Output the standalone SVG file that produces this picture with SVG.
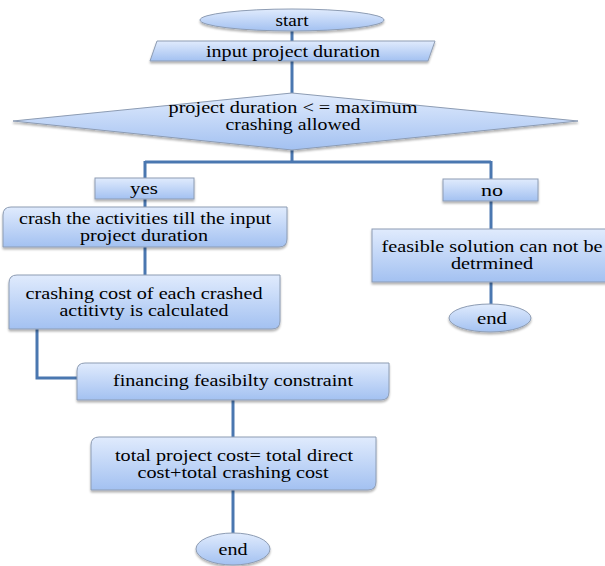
<svg xmlns="http://www.w3.org/2000/svg" width="605" height="566" viewBox="0 0 605 566">
<defs>
<linearGradient id="g" x1="0" y1="0" x2="0" y2="1">
<stop offset="0" stop-color="#e0ebfd"/>
<stop offset="1" stop-color="#a3c1f1"/>
</linearGradient>
<filter id="sh" x="-10%" y="-10%" width="120%" height="140%">
<feDropShadow dx="0" dy="2" stdDeviation="1.2" flood-color="#000" flood-opacity="0.3"/>
</filter>
</defs>
<style>
.n{fill:url(#g);stroke:#8d9cb3;stroke-width:1;filter:url(#sh)}
text{font-family:'Liberation Serif','DejaVu Serif',serif;font-size:16px;fill:#000;text-anchor:middle}
.c{fill:none;stroke:#4a77b0;stroke-width:3}
</style>
<rect width="605" height="566" fill="#fff"/>
<g id="connectors">
<path class="c" d="M292,31 V41"/>
<path class="c" d="M292,61 V93"/>
<path class="c" d="M292,150 V162 M145,162 H491 M145,161 V178 M491,161 V179"/>
<path class="c" d="M145,199 V207"/>
<path class="c" d="M145,247 V275"/>
<path class="c" d="M37,329 V378 H77"/>
<path class="c" d="M233,400 V437"/>
<path class="c" d="M233,490 V533"/>
<path class="c" d="M491,201 V229"/>
<path class="c" d="M491,282 V304"/>
</g>
<g font-family="Liberation Serif, serif" font-size="16">
<g id="start">
<ellipse class="n" cx="292" cy="20" rx="92" ry="11"/>
<text x="292" y="26" textLength="33" lengthAdjust="spacingAndGlyphs">start</text>
</g>
<g id="input">
<path class="n" d="M157,41 H435 L428,61 H150 Z"/>
<text x="293" y="57" textLength="174" lengthAdjust="spacingAndGlyphs">input project duration</text>
</g>
<g id="decision">
<path class="n" d="M292,93 L578,121 L292,150 L13,121 Z"/>
<text x="293" y="113" textLength="249" lengthAdjust="spacingAndGlyphs">project duration &lt; = maximum</text>
<text x="293" y="130" textLength="135" lengthAdjust="spacingAndGlyphs">crashing allowed</text>
</g>
<g id="yes">
<rect class="n" x="95" y="178" width="99" height="21"/>
<text x="144" y="194" textLength="28" lengthAdjust="spacingAndGlyphs">yes</text>
</g>
<g id="no">
<rect class="n" x="443" y="179" width="95" height="22"/>
<text x="492" y="196" textLength="22" lengthAdjust="spacingAndGlyphs">no</text>
</g>
<g id="crash">
<path class="n" d="M3,215 Q3,207 11,207 H287 V239 Q287,247 279,247 H3 Z"/>
<text x="145" y="224" textLength="252" lengthAdjust="spacingAndGlyphs">crash the activities  till  the input</text>
<text x="144" y="241" textLength="128" lengthAdjust="spacingAndGlyphs">project duration</text>
</g>
<g id="crashing-cost">
<path class="n" d="M9,283 Q9,275 17,275 H280 V321 Q280,329 272,329 H9 Z"/>
<text x="144" y="299" textLength="237" lengthAdjust="spacingAndGlyphs">crashing cost of each crashed</text>
<text x="144" y="316" textLength="169" lengthAdjust="spacingAndGlyphs">actitivty  is calculated</text>
</g>
<g id="financing">
<path class="n" d="M77,371 Q77,363 85,363 H389 V392 Q389,400 381,400 H77 Z"/>
<text x="233" y="386" textLength="240" lengthAdjust="spacingAndGlyphs">financing  feasibilty  constraint</text>
</g>
<g id="total">
<path class="n" d="M91,445 Q91,437 99,437 H376 V482 Q376,490 368,490 H91 Z"/>
<text x="234" y="461" textLength="238" lengthAdjust="spacingAndGlyphs">total project cost= total direct</text>
<text x="233" y="478" textLength="191" lengthAdjust="spacingAndGlyphs">cost+total crashing cost</text>
</g>
<g id="end1">
<ellipse class="n" cx="233" cy="549" rx="37" ry="16"/>
<text x="233" y="555" textLength="29" lengthAdjust="spacingAndGlyphs">end</text>
</g>
<g id="feasible">
<rect class="n" x="372" y="229" width="240" height="53"/>
<text x="492" y="252" textLength="221" lengthAdjust="spacingAndGlyphs">feasible  solution  can not be</text>
<text x="492" y="269" textLength="82" lengthAdjust="spacingAndGlyphs">detrmined</text>
</g>
<g id="end2">
<ellipse class="n" cx="490" cy="318" rx="41" ry="14"/>
<text x="492" y="324" textLength="30" lengthAdjust="spacingAndGlyphs">end</text>
</g>
</g>
</svg>
